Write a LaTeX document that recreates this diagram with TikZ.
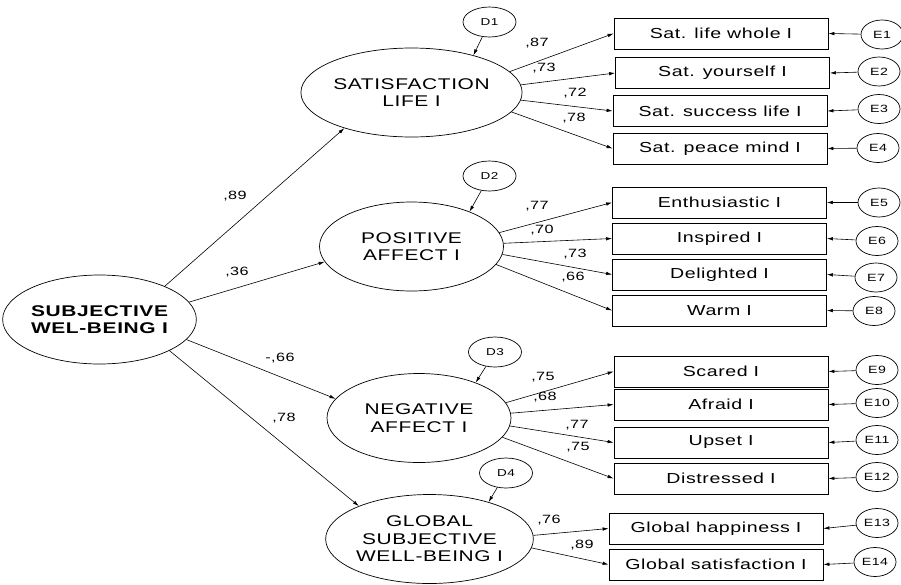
\documentclass[tikz,border=0pt]{standalone}
\usepackage{fontspec}
\setmainfont{Liberation Sans}[FakeStretch=1.35,LetterSpace=4]
\usetikzlibrary{shapes.geometric,arrows.meta}

\begin{document}
\begin{tikzpicture}[x=1pt,y=-1pt,
                    latent/.style={draw,ellipse,line width=0.7pt,minimum width=184pt,minimum height=89pt,
                                   inner sep=0pt,align=center,font=\fontsize{15.5}{17.5}\selectfont},
                    dist/.style={draw,ellipse,line width=0.7pt,minimum width=53pt,minimum height=30pt,
                                 inner sep=0pt,font=\fontsize{10}{12}\selectfont},
                    err/.style={dist,minimum width=42pt,minimum height=29pt,font=\fontsize{10.5}{12}\selectfont},
                    obs/.style={draw,rectangle,line width=0.8pt,minimum width=214pt,minimum height=31pt,
                                inner sep=0pt,font=\fontsize{14.5}{16}\selectfont},
                    coef/.style={inner sep=0pt,font=\fontsize{12}{14}\selectfont},
                    arr/.style={-{Latex[length=6pt,width=3.5pt]},line width=0.6pt}]

\useasboundingbox (0,0) rectangle (901,584);

%latent factors
\node [latent,font=\fontsize{15.5}{17}\selectfont\bfseries] (swb) at (99.5,319.5) {SUBJECTIVE\\WEL-BEING I};
\node [latent] (sat) at (411.5,92.5) {SATISFACTION\\LIFE I};
\node [latent] (pos) at (411.5,246.5) {POSITIVE\\AFFECT I};
\node [latent] (neg) at (419,418) {NEGATIVE\\AFFECT I};
\node [latent] (glob) at (429.5,539) {GLOBAL\\SUBJECTIVE\\WELL-BEING I};

%disturbances
\node [dist] (D1) at (489.5,22) {D1};
\node [dist] (D2) at (489.5,176) {D2};
\node [dist] (D3) at (495,352) {D3};
\node [dist] (D4) at (506,473) {D4};

%indicators
\node [obs] (lifewhole) at (721,33.5) {Sat. life whole I};
\node [obs] (yourself) at (722.5,73) {Sat. yourself I};
\node [obs] (success) at (720,111) {Sat. success life I};
\node [obs] (peace) at (720,148.5) {Sat. peace mind I};
\node [obs] (enthus) at (719.5,202.5) {Enthusiastic I};
\node [obs] (inspired) at (719.5,238.5) {Inspired I};
\node [obs] (delight) at (719.5,274.5) {Delighted I};
\node [obs] (warm) at (719.5,310.5) {Warm I};
\node [obs] (scared) at (721,371.5) {Scared I};
\node [obs] (afraid) at (721,404.5) {Afraid I};
\node [obs] (upset) at (721,442.5) {Upset I};
\node [obs] (distress) at (721,478.5) {Distressed I};
\node [obs] (globhap) at (716,528.5) {Global happiness I};
\node [obs] (globsat) at (716,564.5) {Global satisfaction I};

%errors
\node [err] (E1) at (882,34.5) {E1};
\node [err] (E2) at (879,71.5) {E2};
\node [err] (E3) at (879,109) {E3};
\node [err] (E4) at (878,148) {E4};
\node [err] (E5) at (879,202.5) {E5};
\node [err] (E6) at (877,241) {E6};
\node [err] (E7) at (876,277.5) {E7};
\node [err] (E8) at (874,311) {E8};
\node [err] (E9) at (877,370) {E9};
\node [err] (E10) at (877,403) {E10};
\node [err] (E11) at (877,440) {E11};
\node [err] (E12) at (877,477) {E12};
\node [err] (E13) at (877,523) {E13};
\node [err] (E14) at (875,562) {E14};

%second order paths
\draw [arr] (swb.27) -- (sat.208);
\draw [arr] (swb.11) -- (pos.190);
\draw [arr] (swb.-13) -- (neg.167);
\draw [arr] (swb.-24) -- (glob.155);

%disturbance paths
\draw [arr] (D1) -- (sat.31);
\draw [arr] (D2) -- (pos.31);
\draw [arr] (D3) -- (neg.32);
\draw [arr] (D4) -- (glob.32);

%loadings
\draw [arr] (sat.12) -- (lifewhole.west);
\draw [arr] (sat.4) -- (yourself.west);
\draw [arr] (sat.-4) -- (success.west);
\draw [arr] (sat.-11) -- (peace.west);
\draw [arr] (pos.9) -- (enthus.west);
\draw [arr] (pos.2) -- (inspired.west);
\draw [arr] (pos.-5) -- (delight.west);
\draw [arr] (pos.-12) -- (warm.west);
\draw [arr] (neg.10) -- (scared.west);
\draw [arr] (neg.3) -- (afraid.west);
\draw [arr] (neg.-5.5) -- (upset.west);
\draw [arr] (neg.-13) -- (distress.west);
\draw [arr] (glob.2.5) -- (globhap.west);
\draw [arr] (glob.-5.6) -- (globsat.west);

%error paths
\draw [arr] (E1) -- (lifewhole.east);
\draw [arr] (E2) -- (yourself.east);
\draw [arr] (E3) -- (success.east);
\draw [arr] (E4) -- (peace.east);
\draw [arr] (E5) -- (enthus.east);
\draw [arr] (E6) -- (inspired.east);
\draw [arr] (E7) -- (delight.east);
\draw [arr] (E8) -- (warm.east);
\draw [arr] (E9) -- (scared.east);
\draw [arr] (E10) -- (afraid.east);
\draw [arr] (E11) -- (upset.east);
\draw [arr] (E12) -- (distress.east);
\draw [arr] (E13) -- (globhap.east);
\draw [arr] (E14) -- (globsat.east);

%coefficients
\node [coef] (c-sat) at (235,196) {,89};
\node [coef] (c-pos) at (237,272) {,36};
\node [coef] (c-neg) at (280,358) {-,66};
\node [coef] (c-glob) at (284,418) {,78};
\node [coef] (c-lifewhole) at (537,43) {,87};
\node [coef] (c-yourself) at (544,68) {,73};
\node [coef] (c-success) at (575,93) {,72};
\node [coef] (c-peace) at (574,118) {,78};
\node [coef] (c-enthus) at (537,206) {,77};
\node [coef] (c-inspired) at (542,230) {,70};
\node [coef] (c-delight) at (575,254) {,73};
\node [coef] (c-warm) at (573,277) {,66};
\node [coef] (c-scared) at (543,377) {,75};
\node [coef] (c-afraid) at (545,397) {,68};
\node [coef] (c-upset) at (577,425) {,77};
\node [coef] (c-distress) at (578,447) {,75};
\node [coef] (c-globhap) at (549,520) {,76};
\node [coef] (c-globsat) at (582,545) {,89};

\end{tikzpicture}
\end{document}
